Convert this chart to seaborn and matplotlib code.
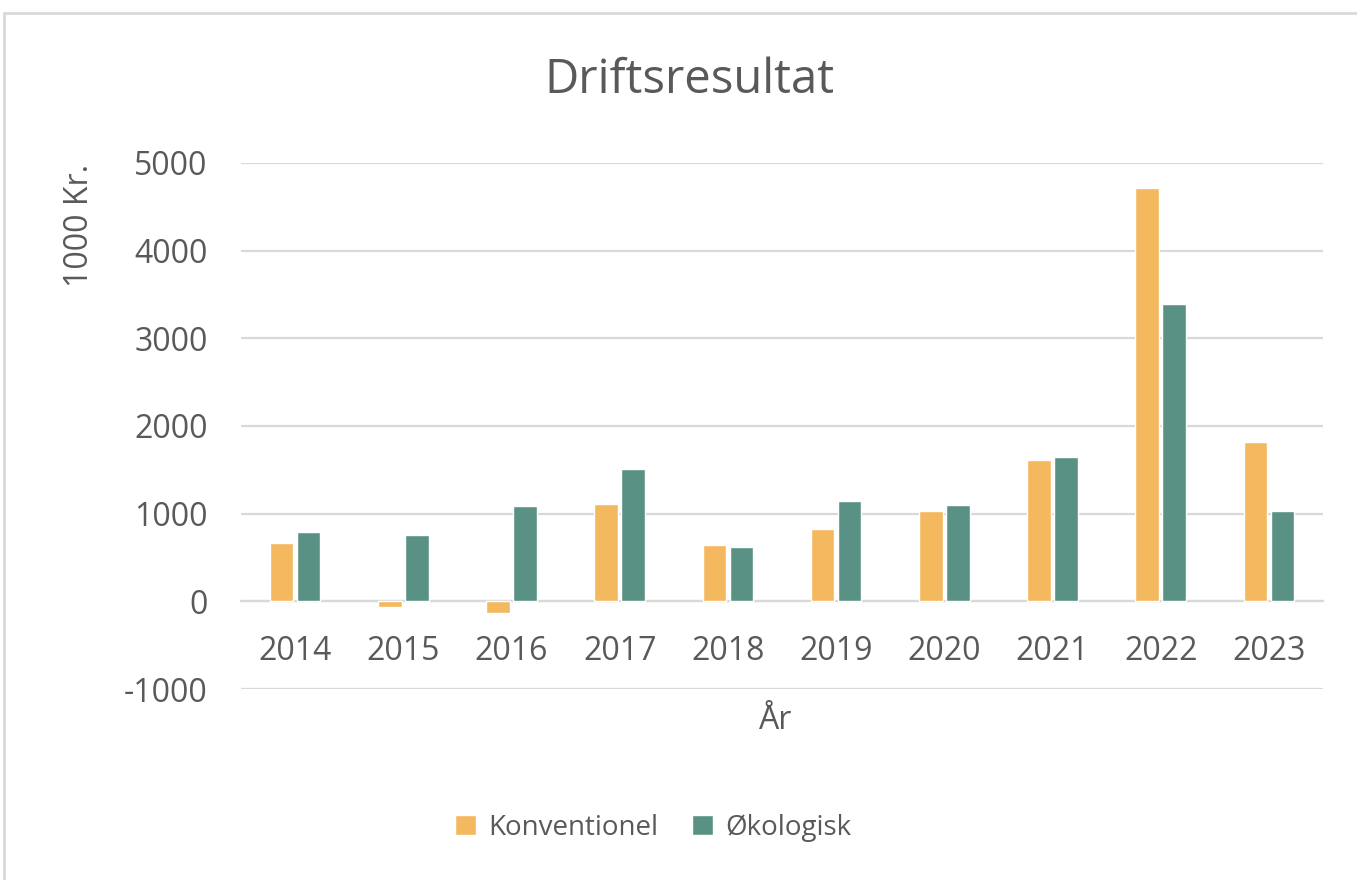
import pandas as pd
import seaborn as sns
import matplotlib.pyplot as plt
from matplotlib.patches import Rectangle, Patch

# Data (1000 Kr.)
years = ["2014", "2015", "2016", "2017", "2018", "2019", "2020", "2021", "2022", "2023"]
konventionel = [665, -60, -130, 1112, 640, 830, 1030, 1615, 4710, 1817]
okologisk = [796, 755, 1090, 1512, 625, 1150, 1097, 1646, 3387, 1036]
series = ["Konventionel", "Økologisk"]
colors = ["#F4B95F", "#5A9185"]
yticks = [-1000, 0, 1000, 2000, 3000, 4000, 5000]

df = pd.DataFrame({
    "År": years * 2,
    "value": konventionel + okologisk,
    "serie": [series[0]] * len(years) + [series[1]] * len(years),
})

sns.set_style("white")
plt.rcParams["font.family"] = ["Open Sans", "DejaVu Sans"]
plt.rcParams["axes.unicode_minus"] = False
txt = "#595959"
grid = "#D9D9D9"

fig = plt.figure(figsize=(13.57, 8.8), dpi=100)
fig.patches.append(Rectangle((4 / 1357, -0.1), 1.2, 1.1 - 13 / 880,
                             transform=fig.transFigure, fill=False,
                             edgecolor=grid, linewidth=2))
ax = fig.add_axes([241 / 1357, 1 - 689 / 880, 1082 / 1357, 526 / 880])

sns.barplot(data=df, x="År", y="value", hue="serie", order=years,
            hue_order=series, palette=colors, width=0.5, gap=0.13,
            saturation=1, ax=ax, legend=False, zorder=3)

ax.set_xlim(-0.5, 9.5)
ax.set_ylim(-1000, 5000)
ax.set_yticks(yticks)
ax.yaxis.grid(True, color=grid, linewidth=1.6, zorder=0)
ax.set_axisbelow(True)
for s in ["top", "right", "left"]:
    ax.spines[s].set_visible(False)
ax.spines["bottom"].set_position(("data", 0))
ax.spines["bottom"].set_color(grid)
ax.spines["bottom"].set_linewidth(1.6)
ax.tick_params(axis="both", length=0, labelsize=23, colors=txt)
ax.tick_params(axis="x", pad=24)
ax.tick_params(axis="y", pad=24)
ax.set_xlabel("")
ax.set_ylabel("")

fig.text(689 / 1357, 1 - 80 / 880, "Driftsresultat", ha="center", va="center",
         fontsize=34, color=txt)
fig.text(80 / 1357, 1 - 225 / 880, "1000 Kr.", rotation=90, ha="center",
         va="center", fontsize=23, color=txt)
fig.text(776 / 1357, 1 - 720 / 880, "År", ha="center", va="center",
         fontsize=23, color=txt)

handles = [Patch(facecolor=c, label=s) for c, s in zip(colors, series)]
fig.legend(handles=handles, loc="center", bbox_to_anchor=(653 / 1357, 1 - 828 / 880),
           ncol=2, frameon=False, fontsize=20, labelcolor=txt,
           handlelength=0.75, handleheight=0.75, handletextpad=0.45, columnspacing=1.2)

fig.savefig("out.png", dpi=100)
